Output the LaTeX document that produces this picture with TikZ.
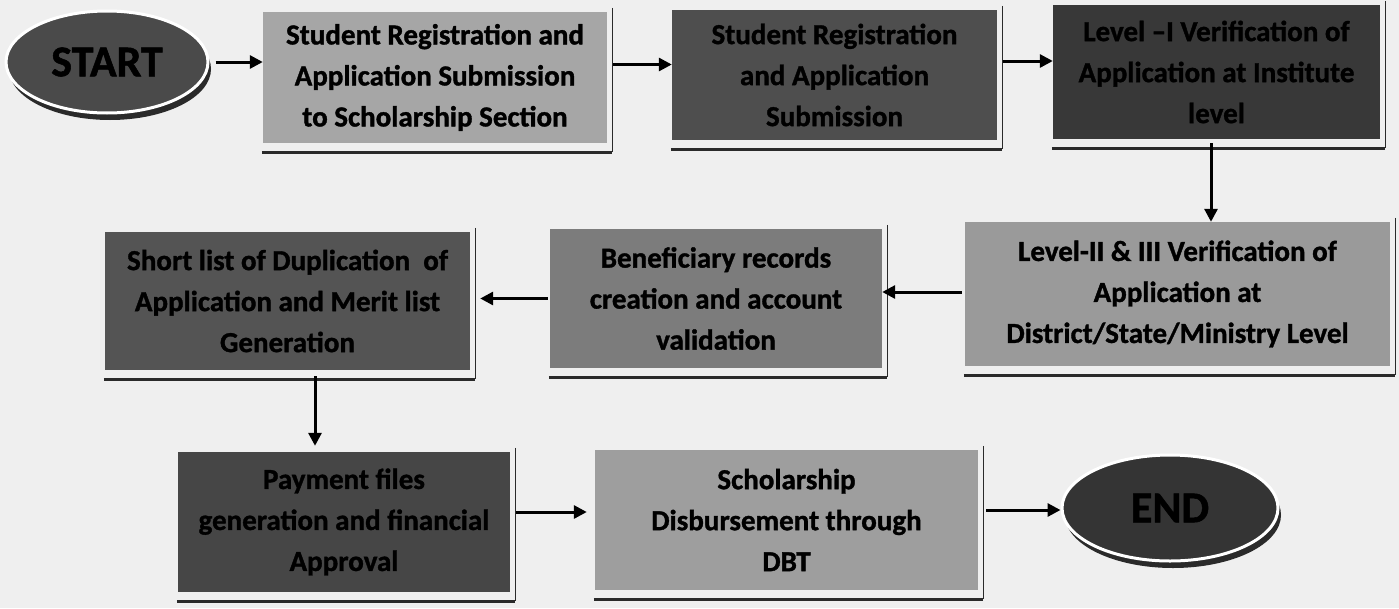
\documentclass[tikz,border=0pt]{standalone}
\usepackage{fontspec}
\setmainfont{Carlito}[BoldFeatures={FakeBold=1.2}]
\usetikzlibrary{shapes.geometric,arrows.meta,shadows,calc}
\definecolor{bg}{HTML}{EFEFEF}
\definecolor{cA}{HTML}{A6A6A6}
\definecolor{cB}{HTML}{4E4E4E}
\definecolor{cC}{HTML}{383838}
\definecolor{cD}{HTML}{9A9A9A}
\definecolor{cE}{HTML}{7C7C7C}
\definecolor{cF}{HTML}{545454}
\definecolor{cG}{HTML}{464646}
\definecolor{cH}{HTML}{9E9E9E}
\definecolor{cS}{HTML}{4A4A4A}
\definecolor{cN}{HTML}{343434}
\definecolor{edge}{HTML}{2A2A2A}
\tikzset{
  procbox/.style={rectangle, inner sep=0pt, align=center, text=black,
    font=\fontsize{29}{41}\selectfont\bfseries},
  term/.style={ellipse, inner sep=0pt, draw=white, line width=3pt,
    font=\fontsize{44}{46}\selectfont\bfseries, text=black,
    drop shadow={shadow xshift=3pt, shadow yshift=-7pt, fill=edge, opacity=1}},
  arr/.style={line width=3pt, draw=black, -{Triangle[length=13pt,width=13pt]}},
  sideline/.style={line width=1.4pt, draw=edge},
  baseline/.style={line width=3.2pt, draw=edge}
}
\newcommand{\boxedge}[1]{%
  \draw[sideline] ([xshift=5pt,yshift=4pt]#1.north east) -- ([xshift=5pt,yshift=-9pt]#1.south east);
  \draw[baseline] ([xshift=-1pt,yshift=-9pt]#1.south west) -- ([xshift=5pt,yshift=-9pt]#1.south east);
}
\begin{document}
\begin{tikzpicture}[x=1pt,y=-1pt]
\fill[bg] (0,0) rectangle (1399,608);
\useasboundingbox (0,0) rectangle (1399,608);

\node[term, fill=cS, minimum width=202pt, minimum height=102pt] (start) at (107,62) {START};
\node[procbox, fill=cA, minimum width=344pt, minimum height=131pt] (a) at (435,77.5) {Student Registration and\\Application Submission\\to Scholarship Section};
\node[procbox, fill=cB, minimum width=325pt, minimum height=130pt] (b) at (834.5,75) {Student Registration\\and Application\\Submission};
\node[procbox, fill=cC, minimum width=327pt, minimum height=134pt] (c) at (1216.5,72) {Level –I Verification of\\Application at Institute\\level};
\node[procbox, fill=cD, minimum width=425pt, minimum height=144pt] (d) at (1177.5,294) {Level-II \& III Verification of\\Application at\\District/State/Ministry Level};
\node[procbox, fill=cE, minimum width=332pt, minimum height=139pt] (e) at (716,298.5) {Beneficiary records\\creation and account\\validation};
\node[procbox, fill=cF, minimum width=365pt, minimum height=138pt] (f) at (287.5,301) {Short list of Duplication~~of\\Application and Merit list\\Generation};
\node[procbox, fill=cG, minimum width=332pt, minimum height=140pt] (g) at (344,522) {Payment files\\generation and financial\\Approval};
\node[procbox, fill=cH, minimum width=383pt, minimum height=140pt] (h) at (786.5,520) {Scholarship\\Disbursement through\\DBT};
\node[term, fill=cN, minimum width=216pt, minimum height=106pt] (end) at (1170,508) {END};

\boxedge{a}
\boxedge{b}
\boxedge{c}
\boxedge{d}
\boxedge{e}
\boxedge{f}
\boxedge{g}
\boxedge{h}

\draw[arr] ([xshift=6pt]start.east) -- (start.east -| a.west);
\draw[arr] ([xshift=6pt,yshift=13pt]a.east) -- ([yshift=13pt]a.east -| b.west);
\draw[arr] ([xshift=6pt,yshift=14pt]b.east) -- ([yshift=14pt]b.east -| c.west);
\draw[arr] ([yshift=-4pt]c.south -| 1211,0) -- (d.north -| 1211,0);
\draw[arr] ([xshift=-3pt,yshift=2pt]d.west) -- ([yshift=2pt]d.west -| e.east);
\draw[arr] ([xshift=-2pt]e.west) -- ([xshift=10pt]e.west -| f.east);
\draw[arr] ([yshift=-6pt]f.south -| 315,0) -- ([yshift=6pt]g.north -| 315,0);
\draw[arr] ([xshift=6pt,yshift=10pt]g.east) -- ([xshift=-8pt,yshift=10pt]g.east -| h.west);
\draw[arr] ([xshift=8pt,yshift=10pt]h.east) -- ([yshift=10pt]h.east -| end.west);
\end{tikzpicture}
\end{document}
